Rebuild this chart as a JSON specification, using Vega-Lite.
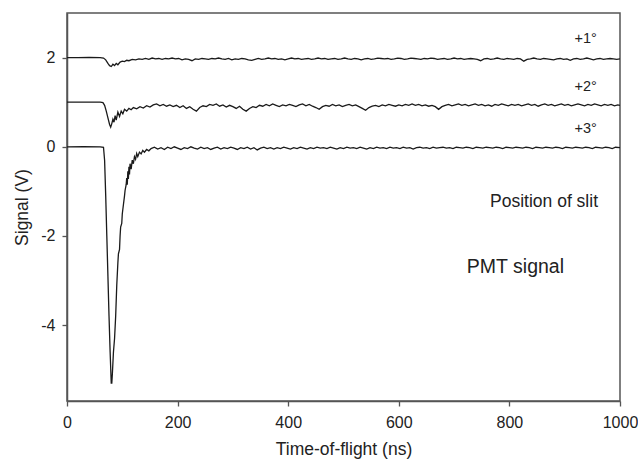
{
"$schema": "https://vega.github.io/schema/vega-lite/v6.json",
"width": 553, "height": 388,
"autosize": {"type": "none"},
"padding": {"left": 67, "top": 13, "right": 18, "bottom": 61},
"background": "white",
"config": {
 "view": {"stroke": "#555", "strokeWidth": 1.5},
 "font": "Liberation Sans",
 "axis": {"grid": false, "domainColor": "#555", "domainWidth": 1.5, "tickColor": "#555", "tickWidth": 1.3, "tickSize": 5, "labelFlush": false,
   "labelFont": "Liberation Sans", "labelFontSize": 16, "labelColor": "#222", "titleFont": "Liberation Sans", "titleFontSize": 17.5, "titleFontWeight": "normal", "titleColor": "#222"}
},
"datasets": {
 "sig": [
 {"c":"a","t":0,"v":2.0},{"c":"a","t":20,"v":2.0},{"c":"a","t":40,"v":2.005},{"c":"a","t":60,"v":2.0},{"c":"a","t":66,"v":1.99},{"c":"a","t":70,"v":1.95},{"c":"a","t":74,"v":1.87},{"c":"a","t":77,"v":1.82},{"c":"a","t":80,"v":1.8},{"c":"a","t":83,"v":1.85},{"c":"a","t":86,"v":1.82},{"c":"a","t":89,"v":1.87},{"c":"a","t":92,"v":1.84},{"c":"a","t":96,"v":1.9},{"c":"a","t":100,"v":1.92},{"c":"a","t":104,"v":1.91},{"c":"a","t":108,"v":1.94},{"c":"a","t":112,"v":1.93},{"c":"a","t":118,"v":1.96},{"c":"a","t":124,"v":1.95},{"c":"a","t":130,"v":1.97},{"c":"a","t":136,"v":1.96},{"c":"a","t":142,"v":1.98},{"c":"a","t":148,"v":1.96},{"c":"a","t":154,"v":1.99},{"c":"a","t":160,"v":1.97},{"c":"a","t":166,"v":1.98},{"c":"a","t":172,"v":1.96},{"c":"a","t":178,"v":1.98},{"c":"a","t":184,"v":1.97},{"c":"a","t":190,"v":1.99},{"c":"a","t":196,"v":1.97},{"c":"a","t":202,"v":1.98},{"c":"a","t":208,"v":1.95},{"c":"a","t":214,"v":1.97},{"c":"a","t":220,"v":1.96},{"c":"a","t":226,"v":1.93},{"c":"a","t":232,"v":1.97},{"c":"a","t":238,"v":1.96},{"c":"a","t":244,"v":1.98},{"c":"a","t":250,"v":1.97},{"c":"a","t":256,"v":1.96},{"c":"a","t":262,"v":1.98},{"c":"a","t":268,"v":1.97},{"c":"a","t":274,"v":1.99},{"c":"a","t":280,"v":1.97},{"c":"a","t":286,"v":1.96},{"c":"a","t":292,"v":1.98},{"c":"a","t":298,"v":1.95},{"c":"a","t":304,"v":1.97},{"c":"a","t":310,"v":1.96},{"c":"a","t":316,"v":1.98},{"c":"a","t":322,"v":1.97},{"c":"a","t":328,"v":1.95},{"c":"a","t":334,"v":1.94},{"c":"a","t":340,"v":1.96},{"c":"a","t":346,"v":1.98},{"c":"a","t":352,"v":1.96},{"c":"a","t":358,"v":1.97},{"c":"a","t":364,"v":1.99},{"c":"a","t":370,"v":1.97},{"c":"a","t":376,"v":1.98},{"c":"a","t":382,"v":1.96},{"c":"a","t":388,"v":1.97},{"c":"a","t":394,"v":1.95},{"c":"a","t":400,"v":1.97},{"c":"a","t":406,"v":1.99},{"c":"a","t":412,"v":1.97},{"c":"a","t":418,"v":1.98},{"c":"a","t":424,"v":1.96},{"c":"a","t":430,"v":1.97},{"c":"a","t":436,"v":1.98},{"c":"a","t":442,"v":1.96},{"c":"a","t":448,"v":1.97},{"c":"a","t":454,"v":1.99},{"c":"a","t":460,"v":1.97},{"c":"a","t":466,"v":1.98},{"c":"a","t":472,"v":1.96},{"c":"a","t":478,"v":1.97},{"c":"a","t":484,"v":1.98},{"c":"a","t":490,"v":1.96},{"c":"a","t":496,"v":1.97},{"c":"a","t":502,"v":1.99},{"c":"a","t":508,"v":1.97},{"c":"a","t":514,"v":1.96},{"c":"a","t":520,"v":1.98},{"c":"a","t":526,"v":1.97},{"c":"a","t":532,"v":1.95},{"c":"a","t":538,"v":1.97},{"c":"a","t":544,"v":1.98},{"c":"a","t":550,"v":1.96},{"c":"a","t":556,"v":1.97},{"c":"a","t":562,"v":1.99},{"c":"a","t":568,"v":1.98},{"c":"a","t":574,"v":1.97},{"c":"a","t":580,"v":1.98},{"c":"a","t":586,"v":1.96},{"c":"a","t":592,"v":1.97},{"c":"a","t":598,"v":1.99},{"c":"a","t":604,"v":1.98},{"c":"a","t":610,"v":1.96},{"c":"a","t":616,"v":1.97},{"c":"a","t":622,"v":1.99},{"c":"a","t":628,"v":1.98},{"c":"a","t":634,"v":1.97},{"c":"a","t":640,"v":1.96},{"c":"a","t":646,"v":1.98},{"c":"a","t":652,"v":1.97},{"c":"a","t":658,"v":1.99},{"c":"a","t":664,"v":1.98},{"c":"a","t":670,"v":1.96},{"c":"a","t":676,"v":1.97},{"c":"a","t":682,"v":1.98},{"c":"a","t":688,"v":1.96},{"c":"a","t":694,"v":1.97},{"c":"a","t":700,"v":1.99},{"c":"a","t":706,"v":1.97},{"c":"a","t":712,"v":1.98},{"c":"a","t":718,"v":1.96},{"c":"a","t":724,"v":1.97},{"c":"a","t":730,"v":1.98},{"c":"a","t":736,"v":1.97},{"c":"a","t":742,"v":1.96},{"c":"a","t":748,"v":1.93},{"c":"a","t":754,"v":1.97},{"c":"a","t":760,"v":1.98},{"c":"a","t":766,"v":1.96},{"c":"a","t":772,"v":1.97},{"c":"a","t":778,"v":1.99},{"c":"a","t":784,"v":1.97},{"c":"a","t":790,"v":1.96},{"c":"a","t":796,"v":1.98},{"c":"a","t":802,"v":1.97},{"c":"a","t":808,"v":1.96},{"c":"a","t":814,"v":1.98},{"c":"a","t":820,"v":1.97},{"c":"a","t":826,"v":1.92},{"c":"a","t":832,"v":1.96},{"c":"a","t":838,"v":1.97},{"c":"a","t":844,"v":1.99},{"c":"a","t":850,"v":1.97},{"c":"a","t":856,"v":1.96},{"c":"a","t":862,"v":1.98},{"c":"a","t":868,"v":1.97},{"c":"a","t":874,"v":1.96},{"c":"a","t":880,"v":1.95},{"c":"a","t":886,"v":1.97},{"c":"a","t":892,"v":1.98},{"c":"a","t":898,"v":1.96},{"c":"a","t":904,"v":1.97},{"c":"a","t":910,"v":1.94},{"c":"a","t":916,"v":1.97},{"c":"a","t":922,"v":1.98},{"c":"a","t":928,"v":1.96},{"c":"a","t":934,"v":1.97},{"c":"a","t":940,"v":1.99},{"c":"a","t":946,"v":1.97},{"c":"a","t":952,"v":1.95},{"c":"a","t":958,"v":1.97},{"c":"a","t":964,"v":1.98},{"c":"a","t":970,"v":1.96},{"c":"a","t":976,"v":1.97},{"c":"a","t":982,"v":1.98},{"c":"a","t":988,"v":1.97},{"c":"a","t":994,"v":1.96},{"c":"a","t":1000,"v":1.97},
 {"c":"b","t":0,"v":1.0},{"c":"b","t":30,"v":1.0},{"c":"b","t":60,"v":1.0},{"c":"b","t":65,"v":0.99},{"c":"b","t":68,"v":0.93},{"c":"b","t":71,"v":0.8},{"c":"b","t":74,"v":0.65},{"c":"b","t":77,"v":0.5},{"c":"b","t":79,"v":0.44},{"c":"b","t":81,"v":0.52},{"c":"b","t":83,"v":0.62},{"c":"b","t":85,"v":0.55},{"c":"b","t":87,"v":0.7},{"c":"b","t":89,"v":0.6},{"c":"b","t":92,"v":0.78},{"c":"b","t":95,"v":0.68},{"c":"b","t":98,"v":0.8},{"c":"b","t":101,"v":0.74},{"c":"b","t":104,"v":0.84},{"c":"b","t":108,"v":0.8},{"c":"b","t":112,"v":0.86},{"c":"b","t":116,"v":0.83},{"c":"b","t":120,"v":0.88},{"c":"b","t":126,"v":0.85},{"c":"b","t":132,"v":0.9},{"c":"b","t":138,"v":0.87},{"c":"b","t":144,"v":0.92},{"c":"b","t":150,"v":0.89},{"c":"b","t":156,"v":0.94},{"c":"b","t":162,"v":0.96},{"c":"b","t":168,"v":0.92},{"c":"b","t":174,"v":0.95},{"c":"b","t":180,"v":0.91},{"c":"b","t":186,"v":0.94},{"c":"b","t":192,"v":0.9},{"c":"b","t":198,"v":0.93},{"c":"b","t":204,"v":0.88},{"c":"b","t":210,"v":0.92},{"c":"b","t":216,"v":0.86},{"c":"b","t":222,"v":0.9},{"c":"b","t":228,"v":0.84},{"c":"b","t":234,"v":0.8},{"c":"b","t":240,"v":0.88},{"c":"b","t":246,"v":0.92},{"c":"b","t":252,"v":0.9},{"c":"b","t":258,"v":0.95},{"c":"b","t":264,"v":0.93},{"c":"b","t":270,"v":0.96},{"c":"b","t":276,"v":0.91},{"c":"b","t":282,"v":0.94},{"c":"b","t":288,"v":0.89},{"c":"b","t":294,"v":0.93},{"c":"b","t":300,"v":0.9},{"c":"b","t":306,"v":0.86},{"c":"b","t":312,"v":0.91},{"c":"b","t":318,"v":0.84},{"c":"b","t":324,"v":0.8},{"c":"b","t":330,"v":0.86},{"c":"b","t":336,"v":0.9},{"c":"b","t":342,"v":0.88},{"c":"b","t":348,"v":0.93},{"c":"b","t":354,"v":0.91},{"c":"b","t":360,"v":0.95},{"c":"b","t":366,"v":0.92},{"c":"b","t":372,"v":0.96},{"c":"b","t":378,"v":0.93},{"c":"b","t":384,"v":0.9},{"c":"b","t":390,"v":0.94},{"c":"b","t":396,"v":0.92},{"c":"b","t":402,"v":0.95},{"c":"b","t":408,"v":0.93},{"c":"b","t":414,"v":0.9},{"c":"b","t":420,"v":0.94},{"c":"b","t":426,"v":0.96},{"c":"b","t":432,"v":0.92},{"c":"b","t":438,"v":0.95},{"c":"b","t":444,"v":0.91},{"c":"b","t":450,"v":0.88},{"c":"b","t":456,"v":0.84},{"c":"b","t":462,"v":0.9},{"c":"b","t":468,"v":0.93},{"c":"b","t":474,"v":0.91},{"c":"b","t":480,"v":0.95},{"c":"b","t":486,"v":0.92},{"c":"b","t":492,"v":0.94},{"c":"b","t":498,"v":0.9},{"c":"b","t":504,"v":0.93},{"c":"b","t":510,"v":0.95},{"c":"b","t":516,"v":0.92},{"c":"b","t":522,"v":0.94},{"c":"b","t":528,"v":0.9},{"c":"b","t":534,"v":0.86},{"c":"b","t":540,"v":0.82},{"c":"b","t":546,"v":0.88},{"c":"b","t":552,"v":0.91},{"c":"b","t":558,"v":0.93},{"c":"b","t":564,"v":0.9},{"c":"b","t":570,"v":0.94},{"c":"b","t":576,"v":0.92},{"c":"b","t":582,"v":0.95},{"c":"b","t":588,"v":0.93},{"c":"b","t":594,"v":0.91},{"c":"b","t":600,"v":0.94},{"c":"b","t":606,"v":0.92},{"c":"b","t":612,"v":0.95},{"c":"b","t":618,"v":0.93},{"c":"b","t":624,"v":0.96},{"c":"b","t":630,"v":0.93},{"c":"b","t":636,"v":0.95},{"c":"b","t":642,"v":0.92},{"c":"b","t":648,"v":0.94},{"c":"b","t":654,"v":0.91},{"c":"b","t":660,"v":0.93},{"c":"b","t":666,"v":0.9},{"c":"b","t":672,"v":0.84},{"c":"b","t":678,"v":0.9},{"c":"b","t":684,"v":0.93},{"c":"b","t":690,"v":0.95},{"c":"b","t":696,"v":0.92},{"c":"b","t":702,"v":0.94},{"c":"b","t":708,"v":0.96},{"c":"b","t":714,"v":0.93},{"c":"b","t":720,"v":0.95},{"c":"b","t":726,"v":0.92},{"c":"b","t":732,"v":0.94},{"c":"b","t":738,"v":0.96},{"c":"b","t":744,"v":0.93},{"c":"b","t":750,"v":0.95},{"c":"b","t":756,"v":0.92},{"c":"b","t":762,"v":0.94},{"c":"b","t":768,"v":0.91},{"c":"b","t":774,"v":0.95},{"c":"b","t":780,"v":0.93},{"c":"b","t":786,"v":0.96},{"c":"b","t":792,"v":0.94},{"c":"b","t":798,"v":0.92},{"c":"b","t":804,"v":0.95},{"c":"b","t":810,"v":0.93},{"c":"b","t":816,"v":0.95},{"c":"b","t":822,"v":0.92},{"c":"b","t":828,"v":0.94},{"c":"b","t":834,"v":0.96},{"c":"b","t":840,"v":0.93},{"c":"b","t":846,"v":0.95},{"c":"b","t":852,"v":0.91},{"c":"b","t":858,"v":0.94},{"c":"b","t":864,"v":0.96},{"c":"b","t":870,"v":0.93},{"c":"b","t":876,"v":0.95},{"c":"b","t":882,"v":0.92},{"c":"b","t":888,"v":0.94},{"c":"b","t":894,"v":0.96},{"c":"b","t":900,"v":0.93},{"c":"b","t":906,"v":0.95},{"c":"b","t":912,"v":0.92},{"c":"b","t":918,"v":0.94},{"c":"b","t":924,"v":0.96},{"c":"b","t":930,"v":0.94},{"c":"b","t":936,"v":0.92},{"c":"b","t":942,"v":0.95},{"c":"b","t":948,"v":0.93},{"c":"b","t":954,"v":0.96},{"c":"b","t":960,"v":0.94},{"c":"b","t":966,"v":0.92},{"c":"b","t":972,"v":0.95},{"c":"b","t":978,"v":0.93},{"c":"b","t":984,"v":0.95},{"c":"b","t":990,"v":0.92},{"c":"b","t":996,"v":0.94},{"c":"b","t":1000,"v":0.93},
 {"c":"c","t":0,"v":0.0},{"c":"c","t":30,"v":0.005},{"c":"c","t":60,"v":0.0},{"c":"c","t":66,"v":-0.01},{"c":"c","t":68,"v":-0.3},{"c":"c","t":70,"v":-1.1},{"c":"c","t":72,"v":-2.0},{"c":"c","t":74,"v":-2.9},{"c":"c","t":76,"v":-3.8},{"c":"c","t":78,"v":-4.6},{"c":"c","t":80,"v":-5.3},{"c":"c","t":81,"v":-5.3},{"c":"c","t":82,"v":-5.1},{"c":"c","t":84,"v":-4.6},{"c":"c","t":86,"v":-4.3},{"c":"c","t":88,"v":-3.8},{"c":"c","t":90,"v":-3.1},{"c":"c","t":92,"v":-2.6},{"c":"c","t":93,"v":-2.4},{"c":"c","t":95,"v":-2.3},{"c":"c","t":96,"v":-2.0},{"c":"c","t":97,"v":-1.8},{"c":"c","t":99,"v":-1.72},{"c":"c","t":100,"v":-1.5},{"c":"c","t":102,"v":-1.3},{"c":"c","t":104,"v":-1.1},{"c":"c","t":105,"v":-0.98},{"c":"c","t":107,"v":-0.85},{"c":"c","t":108,"v":-0.7},{"c":"c","t":109,"v":-0.85},{"c":"c","t":110,"v":-0.55},{"c":"c","t":111,"v":-0.72},{"c":"c","t":112,"v":-0.45},{"c":"c","t":113,"v":-0.62},{"c":"c","t":114,"v":-0.38},{"c":"c","t":116,"v":-0.5},{"c":"c","t":118,"v":-0.3},{"c":"c","t":120,"v":-0.38},{"c":"c","t":122,"v":-0.22},{"c":"c","t":124,"v":-0.28},{"c":"c","t":126,"v":-0.15},{"c":"c","t":128,"v":-0.22},{"c":"c","t":131,"v":-0.12},{"c":"c","t":134,"v":-0.16},{"c":"c","t":137,"v":-0.08},{"c":"c","t":140,"v":-0.12},{"c":"c","t":144,"v":-0.06},{"c":"c","t":148,"v":-0.09},{"c":"c","t":152,"v":-0.04},{"c":"c","t":158,"v":-0.01},{"c":"c","t":164,"v":-0.05},{"c":"c","t":170,"v":-0.02},{"c":"c","t":176,"v":-0.06},{"c":"c","t":182,"v":-0.01},{"c":"c","t":188,"v":-0.04},{"c":"c","t":194,"v":0.0},{"c":"c","t":200,"v":-0.03},{"c":"c","t":206,"v":-0.06},{"c":"c","t":212,"v":-0.02},{"c":"c","t":218,"v":-0.04},{"c":"c","t":224,"v":0.0},{"c":"c","t":230,"v":-0.03},{"c":"c","t":236,"v":-0.05},{"c":"c","t":242,"v":-0.01},{"c":"c","t":248,"v":-0.04},{"c":"c","t":254,"v":-0.02},{"c":"c","t":260,"v":-0.06},{"c":"c","t":266,"v":-0.03},{"c":"c","t":272,"v":-0.01},{"c":"c","t":278,"v":-0.05},{"c":"c","t":284,"v":-0.02},{"c":"c","t":290,"v":-0.04},{"c":"c","t":296,"v":-0.01},{"c":"c","t":302,"v":-0.03},{"c":"c","t":308,"v":-0.06},{"c":"c","t":314,"v":-0.02},{"c":"c","t":320,"v":-0.04},{"c":"c","t":326,"v":-0.01},{"c":"c","t":332,"v":-0.05},{"c":"c","t":338,"v":-0.02},{"c":"c","t":344,"v":-0.07},{"c":"c","t":350,"v":-0.03},{"c":"c","t":356,"v":-0.01},{"c":"c","t":362,"v":-0.04},{"c":"c","t":368,"v":-0.02},{"c":"c","t":374,"v":-0.05},{"c":"c","t":380,"v":-0.02},{"c":"c","t":386,"v":-0.04},{"c":"c","t":392,"v":-0.01},{"c":"c","t":398,"v":-0.03},{"c":"c","t":404,"v":-0.05},{"c":"c","t":410,"v":-0.02},{"c":"c","t":416,"v":-0.04},{"c":"c","t":422,"v":-0.01},{"c":"c","t":428,"v":-0.03},{"c":"c","t":434,"v":-0.05},{"c":"c","t":440,"v":-0.02},{"c":"c","t":446,"v":-0.04},{"c":"c","t":452,"v":-0.01},{"c":"c","t":458,"v":-0.03},{"c":"c","t":464,"v":-0.02},{"c":"c","t":470,"v":-0.04},{"c":"c","t":476,"v":-0.01},{"c":"c","t":482,"v":-0.03},{"c":"c","t":488,"v":-0.05},{"c":"c","t":494,"v":-0.02},{"c":"c","t":500,"v":-0.04},{"c":"c","t":506,"v":-0.01},{"c":"c","t":512,"v":-0.03},{"c":"c","t":518,"v":-0.02},{"c":"c","t":524,"v":-0.04},{"c":"c","t":530,"v":-0.01},{"c":"c","t":536,"v":-0.03},{"c":"c","t":542,"v":-0.05},{"c":"c","t":548,"v":-0.02},{"c":"c","t":554,"v":-0.04},{"c":"c","t":560,"v":-0.01},{"c":"c","t":566,"v":-0.03},{"c":"c","t":572,"v":-0.02},{"c":"c","t":578,"v":-0.04},{"c":"c","t":584,"v":-0.01},{"c":"c","t":590,"v":-0.03},{"c":"c","t":596,"v":-0.02},{"c":"c","t":602,"v":-0.04},{"c":"c","t":608,"v":-0.01},{"c":"c","t":614,"v":-0.03},{"c":"c","t":620,"v":-0.02},{"c":"c","t":626,"v":-0.05},{"c":"c","t":632,"v":-0.02},{"c":"c","t":638,"v":-0.01},{"c":"c","t":644,"v":-0.03},{"c":"c","t":650,"v":-0.02},{"c":"c","t":656,"v":-0.04},{"c":"c","t":662,"v":-0.01},{"c":"c","t":668,"v":-0.03},{"c":"c","t":674,"v":-0.02},{"c":"c","t":680,"v":-0.01},{"c":"c","t":686,"v":-0.03},{"c":"c","t":692,"v":-0.02},{"c":"c","t":698,"v":-0.04},{"c":"c","t":704,"v":-0.01},{"c":"c","t":710,"v":-0.02},{"c":"c","t":716,"v":-0.03},{"c":"c","t":722,"v":-0.01},{"c":"c","t":728,"v":-0.02},{"c":"c","t":734,"v":-0.04},{"c":"c","t":740,"v":-0.01},{"c":"c","t":746,"v":-0.02},{"c":"c","t":752,"v":-0.03},{"c":"c","t":758,"v":-0.01},{"c":"c","t":764,"v":-0.02},{"c":"c","t":770,"v":-0.03},{"c":"c","t":776,"v":-0.01},{"c":"c","t":782,"v":-0.02},{"c":"c","t":788,"v":-0.04},{"c":"c","t":794,"v":-0.01},{"c":"c","t":800,"v":-0.02},{"c":"c","t":806,"v":-0.03},{"c":"c","t":812,"v":-0.01},{"c":"c","t":818,"v":-0.02},{"c":"c","t":824,"v":-0.03},{"c":"c","t":830,"v":-0.01},{"c":"c","t":836,"v":-0.02},{"c":"c","t":842,"v":-0.04},{"c":"c","t":848,"v":-0.01},{"c":"c","t":854,"v":-0.02},{"c":"c","t":860,"v":-0.03},{"c":"c","t":866,"v":-0.01},{"c":"c","t":872,"v":-0.02},{"c":"c","t":878,"v":-0.03},{"c":"c","t":884,"v":-0.01},{"c":"c","t":890,"v":-0.02},{"c":"c","t":896,"v":-0.04},{"c":"c","t":902,"v":-0.01},{"c":"c","t":908,"v":-0.02},{"c":"c","t":914,"v":-0.03},{"c":"c","t":920,"v":-0.01},{"c":"c","t":926,"v":-0.02},{"c":"c","t":932,"v":-0.03},{"c":"c","t":938,"v":-0.01},{"c":"c","t":944,"v":-0.02},{"c":"c","t":950,"v":-0.04},{"c":"c","t":956,"v":-0.01},{"c":"c","t":962,"v":-0.02},{"c":"c","t":968,"v":-0.03},{"c":"c","t":974,"v":-0.01},{"c":"c","t":980,"v":-0.02},{"c":"c","t":986,"v":-0.04},{"c":"c","t":992,"v":-0.01},{"c":"c","t":1000,"v":-0.02}
 ],
 "deg": [
  {"x": 958, "y": 2.41, "label": "+1°"},
  {"x": 958, "y": 1.34, "label": "+2°"},
  {"x": 958, "y": 0.39, "label": "+3°"}
 ],
 "note1": [{"x": 765, "y": -1.24, "label": "Position of slit"}],
 "note2": [{"x": 723, "y": -2.69, "label": "PMT signal"}]
},
"layer": [
 {
  "data": {"name": "sig"},
  "mark": {"type": "line", "color": "#1a1a1a", "strokeWidth": 1.3, "clip": true},
  "encoding": {
   "x": {"field": "t", "type": "quantitative", "scale": {"domain": [0, 1000], "nice": false},
     "axis": {"values": [0, 200, 400, 600, 800, 1000], "format": "d", "title": "Time-of-flight (ns)", "labelPadding": 8, "titlePadding": 10}},
   "y": {"field": "v", "type": "quantitative", "scale": {"domain": [-5.7, 3], "nice": false, "zero": false},
     "axis": {"values": [-4, -2, 0, 2], "labelExpr": "datum.value + ''", "title": "Signal (V)", "labelPadding": 7, "titlePadding": 9}},
   "detail": {"field": "c"}
  }
 },
 {
  "data": {"name": "deg"},
  "mark": {"type": "text", "align": "right", "baseline": "middle", "fontSize": 14.5, "color": "#222", "font": "Liberation Sans"},
  "encoding": {"x": {"field": "x", "type": "quantitative"}, "y": {"field": "y", "type": "quantitative"}, "text": {"field": "label"}}
 },
 {
  "data": {"name": "note1"},
  "mark": {"type": "text", "align": "left", "baseline": "middle", "fontSize": 17.5, "color": "#222", "font": "Liberation Sans"},
  "encoding": {"x": {"field": "x", "type": "quantitative"}, "y": {"field": "y", "type": "quantitative"}, "text": {"field": "label"}}
 },
 {
  "data": {"name": "note2"},
  "mark": {"type": "text", "align": "left", "baseline": "middle", "fontSize": 19.5, "color": "#222", "font": "Liberation Sans"},
  "encoding": {"x": {"field": "x", "type": "quantitative"}, "y": {"field": "y", "type": "quantitative"}, "text": {"field": "label"}}
 }
]
}
